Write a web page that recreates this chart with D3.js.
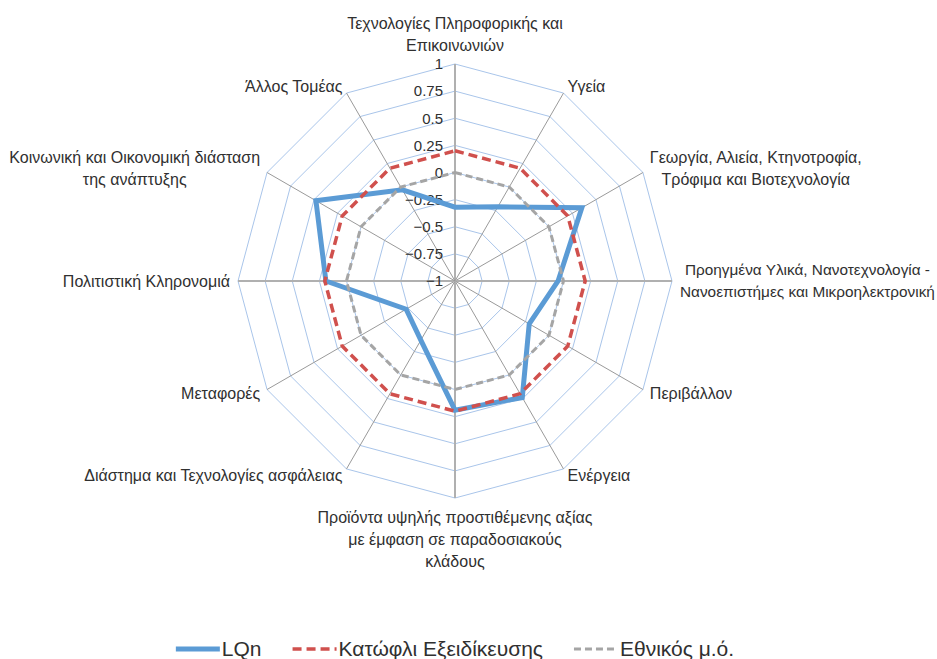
<!DOCTYPE html>
<html>
<head>
<meta charset="utf-8">
<script src="https://cdn.jsdelivr.net/npm/d3@7"></script>
<style>
  body { margin: 0; background: #fff; }
  svg { display: block; }
  .lbl { font-family: "Liberation Sans", Arial, sans-serif; font-size: 16px; fill: #303030; }
  .tick { font-family: "Liberation Sans", Arial, sans-serif; font-size: 15px; fill: #303030; }
  .leg { font-family: "Liberation Sans", Arial, sans-serif; font-size: 21px; fill: #303030; }
</style>
</head>
<body>
<div id="radar"></div>
<script>
const categories = [
  ["Τεχνολογίες Πληροφορικής και", "Επικοινωνιών"],
  ["Υγεία"],
  ["Γεωργία, Αλιεία, Κτηνοτροφία,", "Τρόφιμα και Βιοτεχνολογία"],
  ["Προηγμένα Υλικά, Νανοτεχνολογία -", "Νανοεπιστήμες και Μικροηλεκτρονική"],
  ["Περιβάλλον"],
  ["Ενέργεια"],
  ["Προϊόντα υψηλής προστιθέμενης αξίας", "με έμφαση σε παραδοσιακούς", "κλάδους"],
  ["Διάστημα και Τεχνολογίες ασφάλειας"],
  ["Μεταφορές"],
  ["Πολιτιστική Κληρονομιά"],
  ["Κοινωνική και Οικονομική διάσταση", "της ανάπτυξης"],
  ["Άλλος Τομέας"]
];
const lqn       = [-0.32, -0.21, 0.35, -0.05, -0.21, 0.24, 0.19, -0.37, -0.48, 0.19, 0.48, -0.03];
const threshold = [0.2, 0.2, 0.2, 0.2, 0.2, 0.2, 0.2, 0.2, 0.2, 0.2, 0.2, 0.2];
const natMean   = [0, 0, 0, 0, 0, 0, 0, 0, 0, 0, 0, 0];
const ticks = [-1, -0.75, -0.5, -0.25, 0, 0.25, 0.5, 0.75, 1];
const seriesNames = ["LQn", "Κατώφλι Εξειδίκευσης", "Εθνικός μ.ό."];

const width = 937, height = 659;
const cx = 455, cy = 281, R = 217;

const svg = d3.select("#radar").append("svg")
  .attr("width", width).attr("height", height);

const rScale = d3.scaleLinear().domain([-1, 1]).range([0, R]);
const angle = d3.scaleLinear().domain([0, categories.length]).range([0, 2 * Math.PI]);
const pt = (i, v) => [cx + rScale(v) * Math.sin(angle(i)), cy - rScale(v) * Math.cos(angle(i))];

const g = svg.append("g");

// rings
ticks.slice(1).forEach(t => {
  g.append("path")
    .attr("d", d3.line()(categories.map((c, i) => pt(i, t))) + "Z")
    .attr("fill", "none")
    .attr("stroke", "#a9c5ea")
    .attr("stroke-width", 1);
});

// spokes
categories.forEach((c, i) => {
  const [x, y] = pt(i, 1);
  const main = i === 0 || i === 3 || i === 6 || i === 9;
  g.append("line")
    .attr("x1", cx).attr("y1", cy).attr("x2", x).attr("y2", y)
    .attr("stroke", main ? "#b0b0b0" : "#9a9a9a")
    .attr("stroke-width", main ? 2 : 1);
});

// tick labels
g.selectAll(".tick").data(ticks).enter().append("text")
  .attr("class", "tick")
  .attr("x", cx - 12)
  .attr("y", d => cy - rScale(d))
  .attr("dy", "0.35em")
  .attr("text-anchor", "end")
  .text(d => d3.format("")(d));

// series
const series = [
  {values: lqn, color: "#5b9bd5", width: 5, dash: null},
  {values: threshold, color: "#d0504d", width: 3.5, dash: "9,5"},
  {values: natMean, color: "#a5a5a5", width: 3, dash: "7,4"}
];
series.forEach(s => {
  g.append("path")
    .attr("d", d3.line()(s.values.map((v, i) => pt(i, v))) + "Z")
    .attr("fill", "none")
    .attr("stroke", s.color)
    .attr("stroke-width", s.width)
    .attr("stroke-dasharray", s.dash)
    .attr("stroke-linejoin", "miter");
});

// category labels
const lineH = 22, pad = 8;
categories.forEach((lines, i) => {
  const a = angle(i);
  const s = Math.sin(a), c = Math.cos(a);
  const px = cx + (R + pad) * s, py = cy - (R + pad) * c;
  const t = svg.append("text").attr("class", "lbl").attr("text-anchor", "middle");
  const spans = lines.map(l => t.append("tspan").text(l));
  let maxW = d3.max(spans, sp => sp.node().getComputedTextLength());
  // shrink a label that would run past the right edge
  if (s > 0.01 && px + maxW > width - 2) {
    const fs = 16 * (width - 2 - px) / maxW;
    t.style("font-size", fs + "px");
    maxW = d3.max(spans, sp => sp.node().getComputedTextLength());
  }
  const blockH = lines.length * lineH;
  let x = px, yc = py;
  if (s > 0.01) x = px + maxW / 2;
  else if (s < -0.01) x = px - maxW / 2;
  if (Math.abs(s) < 0.01) yc = py - c * blockH / 2;
  spans.forEach((sp, k) => {
    sp.attr("x", x).attr("y", yc - blockH / 2 + lineH * (k + 0.5)).attr("dy", "0.35em");
  });
});

// legend
const leg = svg.append("g");
let lx = 0;
seriesNames.forEach((name, i) => {
  const it = leg.append("g").attr("transform", `translate(${lx},0)`);
  it.append("line")
    .attr("x1", 0).attr("x2", 44).attr("y1", 0).attr("y2", 0)
    .attr("stroke", series[i].color)
    .attr("stroke-width", series[i].width)
    .attr("stroke-dasharray", series[i].dash);
  const tx = it.append("text").attr("class", "leg").attr("x", 46).attr("dy", "0.35em").text(name);
  lx += 46 + tx.node().getComputedTextLength() + 31;
});
const total = lx - 31;
leg.attr("transform", `translate(${cx - total / 2},649)`);
</script>
</body>
</html>
